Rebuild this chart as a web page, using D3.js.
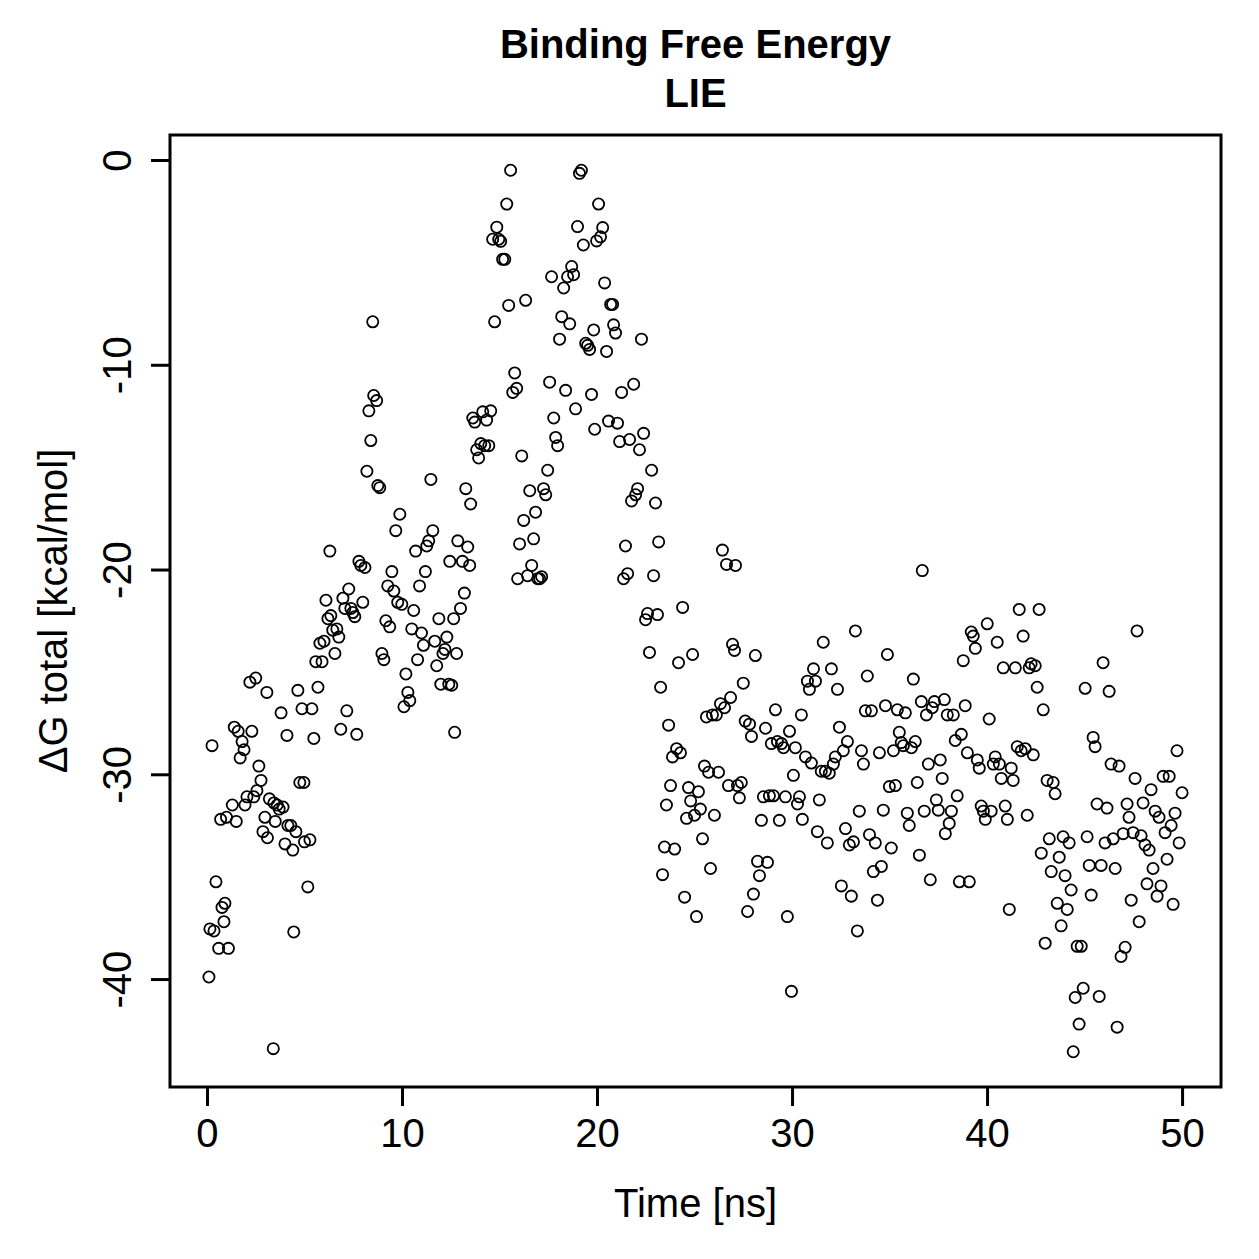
<!DOCTYPE html>
<html lang="en">
<head>
<meta charset="UTF-8">
<title>Binding Free Energy LIE</title>
<style>
  body { margin: 0; background: #fff; }
  svg { display: block; font-family: "Liberation Sans", Arial, sans-serif; }
</style>
</head>
<body>
<div id="chart"></div>
<script src="https://cdn.jsdelivr.net/npm/d3@7"></script>
<script>
// simulation time [ns]
const time = [
  0.1, 0.26, 0.15, 0.36, 0.46, 0.6, 0.7, 0.77, 0.92, 0.87, 1.1, 1.0, 1.3, 1.4, 1.5, 1.6, 1.7, 1.8, 1.9, 1.95,
  2.05, 2.2, 2.3, 2.4, 2.5, 2.56, 2.66, 2.77, 2.87, 2.97, 3.07, 3.1, 3.2, 3.4, 3.43, 3.5, 3.6, 3.7, 3.8, 3.9,
  4.0, 4.1, 4.15, 4.3, 4.4, 4.45, 4.56, 4.66, 4.76, 4.87, 4.97, 5.0, 5.17, 5.28, 5.38, 5.48, 5.58, 5.69, 5.79, 5.9,
  6.0, 6.1, 6.2, 6.3, 6.35, 6.45, 6.56, 6.66, 6.76, 6.86, 6.97, 7.07, 7.17, 7.27, 7.38, 7.48, 7.58, 7.68, 7.79, 7.89,
  7.99, 8.1, 8.2, 8.3, 8.4, 8.5, 8.55, 8.7, 8.76, 8.86, 8.97, 9.07, 9.17, 9.27, 9.37, 9.48, 9.58, 9.68, 9.78, 9.89,
  9.99, 10.1, 10.2, 10.3, 10.4, 10.5, 10.6, 10.7, 10.8, 10.9, 11.0, 11.1, 11.2, 11.27, 11.37, 11.48, 11.58, 11.68, 11.78, 11.89,
  11.99, 12.1, 12.2, 12.3, 12.4, 12.45, 12.55, 12.65, 12.7, 12.8, 12.86, 13.0, 13.1, 13.2, 13.27, 13.37, 13.47, 13.52, 13.63, 13.73,
  13.83, 13.93, 14.04, 14.14, 14.24, 14.34, 14.45, 14.55, 14.65, 14.75, 14.86, 14.96, 15.06, 15.16, 15.27, 15.37, 15.47, 15.57, 15.68, 15.78,
  15.88, 15.93, 16.03, 16.14, 16.24, 16.34, 16.44, 16.55, 16.65, 16.75, 16.85, 16.96, 17.06, 17.16, 17.26, 17.37, 17.47, 17.57, 17.67, 17.78,
  17.88, 17.98, 18.08, 18.19, 18.29, 18.39, 18.49, 18.6, 18.7, 18.8, 18.9, 19.0, 19.1, 19.2, 19.3, 19.42, 19.52, 19.62, 19.72, 19.83,
  19.88, 19.98, 20.08, 20.18, 20.29, 20.39, 20.49, 20.59, 20.7, 20.8, 20.85, 20.95, 21.05, 21.16, 21.26, 21.36, 21.46, 21.57, 21.67, 21.77,
  21.88, 21.98, 22.08, 22.18, 22.28, 22.39, 22.49, 22.59, 22.69, 22.8, 22.9, 23.0, 23.1, 23.16, 23.26, 23.36, 23.46, 23.56, 23.67, 23.77,
  23.87, 23.98, 24.08, 24.18, 24.28, 24.39, 24.49, 24.59, 24.69, 24.8, 24.9, 25.0, 25.1, 25.2, 25.3, 25.41, 25.51, 25.61, 25.72, 25.82,
  25.92, 26.02, 26.12, 26.23, 26.33, 26.43, 26.54, 26.64, 26.74, 26.85, 26.95, 27.05, 27.1, 27.2, 27.3, 27.4, 27.5, 27.6, 27.72, 27.82,
  27.92, 28.02, 28.12, 28.23, 28.33, 28.43, 28.53, 28.64, 28.74, 28.84, 28.94, 29.05, 29.15, 29.25, 29.35, 29.46, 29.56, 29.66, 29.76, 29.87,
  29.97, 30.07, 30.17, 30.28, 30.38, 30.48, 30.53, 30.69, 30.79, 30.89, 30.99, 31.1, 31.2, 31.3, 31.4, 31.5, 31.6, 31.71, 31.81, 31.91,
  32.02, 32.12, 32.22, 32.33, 32.43, 32.53, 32.63, 32.74, 32.84, 32.94, 33.04, 33.15, 33.25, 33.35, 33.45, 33.56, 33.66, 33.76, 33.86, 33.97,
  34.07, 34.17, 34.27, 34.38, 34.48, 34.58, 34.68, 34.79, 34.89, 34.99, 35.09, 35.2, 35.3, 35.4, 35.5, 35.6, 35.71, 35.81, 35.91, 36.01,
  36.12, 36.22, 36.32, 36.42, 36.53, 36.63, 36.68, 36.78, 36.89, 36.99, 37.09, 37.19, 37.3, 37.4, 37.5, 37.6, 37.7, 37.81, 37.86, 37.96,
  38.06, 38.17, 38.27, 38.37, 38.47, 38.58, 38.68, 38.78, 38.88, 38.99, 39.09, 39.19, 39.29, 39.4, 39.5, 39.6, 39.7, 39.81, 39.91, 40.01,
  40.11, 40.21, 40.32, 40.42, 40.52, 40.63, 40.73, 40.83, 40.93, 41.04, 41.14, 41.24, 41.34, 41.45, 41.55, 41.65, 41.75, 41.85, 41.96, 42.06,
  42.16, 42.26, 42.37, 42.47, 42.57, 42.67, 42.78, 42.88, 42.98, 43.08, 43.19, 43.29, 43.39, 43.49, 43.6, 43.7, 43.8, 43.9, 44.0, 44.11,
  44.21, 44.31, 44.42, 44.52, 44.62, 44.72, 44.83, 44.93, 45.03, 45.13, 45.24, 45.34, 45.44, 45.54, 45.64, 45.75, 45.85, 45.95, 46.05, 46.15,
  46.26, 46.36, 46.47, 46.57, 46.67, 46.77, 46.87, 46.98, 47.08, 47.18, 47.28, 47.39, 47.49, 47.59, 47.69, 47.8, 47.9, 48.0, 48.1, 48.2,
  48.31, 48.41, 48.51, 48.62, 48.72, 48.82, 48.92, 49.03, 49.13, 49.23, 49.34, 49.44, 49.54, 49.64, 49.74, 49.85, 50.0
]

// ΔG total [kcal/mol], same order as time
const dG = [
  -39.9, -28.6, -37.55, -37.65, -35.25, -38.5, -32.2, -36.5, -36.3, -37.2, -38.5, -32.1, -31.5, -27.7, -32.3, -27.9, -29.2, -28.4, -28.8, -31.5,
  -31.1, -25.5, -27.9, -31.1, -25.3, -30.8, -29.6, -30.3, -32.8, -32.1, -26.0, -33.1, -31.2, -43.4, -31.4, -32.3, -31.5, -31.7, -27.0, -31.6,
  -33.4, -28.1, -32.5, -32.5, -33.7, -37.7, -32.8, -25.9, -30.4, -26.8, -30.4, -33.3, -35.5, -33.2, -26.8, -28.25, -24.5, -25.75, -23.6, -24.5,
  -23.5, -21.5, -22.4, -19.1, -22.25, -22.96, -24.1, -22.9, -23.3, -27.8, -21.4, -21.9, -26.9, -20.95, -21.9, -22.1, -22.3, -28.05, -19.6, -19.8,
  -21.6, -19.9, -15.2, -12.25, -13.7, -7.9, -11.5, -11.75, -15.9, -16.0, -24.1, -24.4, -22.5, -20.8, -22.8, -20.1, -21.05, -18.1, -21.6, -17.3,
  -21.7, -26.7, -25.1, -26.0, -26.4, -22.9, -22.0, -19.1, -24.4, -20.8, -23.1, -23.7, -20.1, -18.85, -18.6, -15.6, -18.1, -23.5, -24.7, -22.4,
  -25.6, -24.1, -23.9, -23.3, -25.6, -19.6, -25.65, -22.4, -27.95, -24.1, -18.6, -21.9, -19.6, -21.15, -16.05, -18.9, -19.8, -16.8, -12.6, -12.8,
  -14.15, -14.55, -13.85, -12.3, -13.95, -12.7, -13.95, -12.25, -3.87, -7.9, -3.28, -3.87, -3.97, -4.85, -4.85, -2.15, -7.1, -0.5, -11.35, -10.4,
  -11.15, -20.45, -18.75, -14.45, -17.6, -6.85, -20.3, -16.15, -19.8, -18.5, -17.2, -20.45, -20.45, -20.35, -16.05, -16.35, -15.15, -10.85, -5.7, -12.6,
  -13.55, -13.95, -8.75, -7.65, -6.25, -11.25, -5.7, -8.0, -5.2, -5.6, -12.15, -3.25, -0.65, -0.5, -4.15, -8.95, -9.05, -9.25, -11.45, -8.3,
  -13.15, -3.95, -2.15, -3.75, -3.3, -6.0, -9.35, -12.75, -7.05, -7.05, -8.05, -8.45, -12.85, -13.75, -11.35, -20.45, -18.85, -20.2, -13.65, -16.65,
  -10.95, -16.35, -16.05, -14.15, -8.75, -13.35, -22.45, -22.15, -24.05, -15.15, -20.3, -16.75, -22.2, -18.65, -25.75, -34.9, -33.55, -31.5, -27.6, -30.55,
  -29.15, -33.65, -28.75, -24.55, -28.95, -21.85, -36.0, -32.15, -30.65, -31.3, -24.15, -32.0, -36.95, -30.85, -31.7, -33.15, -29.6, -27.2, -29.9, -34.6,
  -27.1, -32.0, -27.1, -29.9, -26.55, -19.05, -26.75, -19.75, -30.55, -26.25, -23.65, -23.95, -19.8, -30.55, -31.15, -30.4, -25.55, -27.4, -36.7, -27.55,
  -28.15, -35.85, -24.2, -34.25, -34.95, -32.25, -31.1, -27.75, -34.3, -31.05, -28.5, -31.05, -26.85, -28.4, -32.25, -28.5, -28.7, -31.1, -36.95, -27.9,
  -40.6, -30.05, -28.7, -31.45, -31.1, -27.1, -32.2, -29.15, -25.45, -25.85, -29.45, -24.85, -25.45, -32.8, -31.25, -29.85, -23.55, -29.85, -33.35, -29.95,
  -24.85, -29.5, -29.15, -25.85, -27.7, -35.45, -28.85, -32.65, -28.4, -33.45, -35.95, -33.3, -23.0, -37.65, -31.8, -28.85, -29.5, -26.9, -25.2, -32.95,
  -26.9, -34.75, -33.35, -36.15, -28.95, -34.5, -31.75, -26.65, -24.15, -30.6, -33.6, -28.85, -30.55, -26.85, -27.95, -28.45, -28.6, -27.0, -31.9, -32.5,
  -28.7, -25.35, -28.4, -30.4, -33.95, -26.45, -20.05, -31.8, -27.1, -29.5, -35.15, -26.75, -26.45, -31.25, -31.75, -29.3, -30.2, -26.35, -32.9, -27.1,
  -32.4, -31.8, -27.1, -28.35, -31.05, -35.25, -28.05, -24.45, -26.65, -28.95, -35.25, -23.05, -23.25, -23.85, -29.3, -29.7, -31.55, -31.8, -32.2, -22.65,
  -27.3, -31.8, -29.5, -29.15, -23.55, -29.5, -30.2, -24.8, -31.55, -32.2, -36.6, -29.7, -30.3, -24.8, -28.65, -21.95, -28.85, -23.25, -28.75, -32.0,
  -24.8, -24.6, -29.05, -24.7, -25.75, -21.95, -33.85, -26.85, -38.25, -30.3, -33.15, -34.75, -30.4, -30.95, -36.3, -34.05, -37.4, -33.05, -34.95, -36.6,
  -33.35, -35.65, -43.55, -40.9, -38.4, -42.2, -38.4, -40.45, -25.8, -33.05, -34.45, -35.9, -28.2, -28.65, -31.45, -40.85, -34.45, -24.55, -33.35, -31.65,
  -25.95, -29.5, -33.15, -34.6, -42.35, -29.6, -38.9, -32.9, -38.45, -31.45, -32.1, -36.15, -32.85, -30.2, -23.0, -37.2, -33.0, -31.4, -33.45, -35.35,
  -33.7, -30.75, -34.6, -31.8, -35.95, -32.1, -35.45, -30.1, -32.85, -34.15, -30.1, -32.5, -36.35, -31.9, -28.85, -33.35, -30.9
]

const xTicks = [0, 10, 20, 30, 40, 50]
const yTicks = [0, -10, -20, -30, -40]

const width = 1259
const height = 1259
const box = { left: 170, right: 1221, top: 135, bottom: 1087 }

const svg = d3.select('#chart')
  .append('svg')
  .attr('width', width)
  .attr('height', height)

// R style: 4% padding around the data range
function pad(ext) {
  const d = (ext[1] - ext[0]) * 0.04
  return [ext[0] - d, ext[1] + d]
}

const x = d3.scaleLinear()
  .domain(pad(d3.extent(time)))
  .range([box.left, box.right])

const y = d3.scaleLinear()
  .domain(pad(d3.extent(dG)))
  .range([box.bottom, box.top])

const points = time.map((t, i) => ({ t, v: dG[i] }))

svg.append('g')
  .selectAll('circle')
  .data(points)
  .enter()
  .append('circle')
  .attr('cx', d => x(d.t))
  .attr('cy', d => y(d.v))
  .attr('r', 5.6)
  .attr('fill', 'none')
  .attr('stroke', '#000')
  .attr('stroke-width', 1.8)

// plain hyphen for negatives, like R
const fmt = d => String(d)

// axes
const xAxis = svg.append('g')
  .attr('transform', `translate(0, ${box.bottom})`)
  .call(d3.axisBottom(x).tickValues(xTicks).tickSize(19).tickPadding(13).tickFormat(fmt))
xAxis.select('.domain').remove()
xAxis.selectAll('line').attr('stroke-width', 3)
xAxis.selectAll('text')
  .attr('font-size', 40)
  .attr('font-family', '"Liberation Sans", Arial, sans-serif')
  .attr('fill', '#000')

const yAxis = svg.append('g')
  .attr('transform', `translate(${box.left}, 0)`)
  .call(d3.axisLeft(y).tickValues(yTicks).tickSize(19).tickFormat(fmt))
yAxis.select('.domain').remove()
yAxis.selectAll('line').attr('stroke-width', 3)
yAxis.selectAll('text')
  .attr('font-size', 40)
  .attr('font-family', '"Liberation Sans", Arial, sans-serif')
  .attr('fill', '#000')
  .attr('x', null)
  .attr('dy', null)
  .attr('text-anchor', 'middle')
  .attr('transform', 'translate(-39, 0) rotate(-90)')

// plot box
svg.append('rect')
  .attr('x', box.left)
  .attr('y', box.top)
  .attr('width', box.right - box.left)
  .attr('height', box.bottom - box.top)
  .attr('fill', 'none')
  .attr('stroke', '#000')
  .attr('stroke-width', 3)

// titles
const midX = (box.left + box.right) / 2
svg.append('text')
  .attr('x', midX).attr('y', 58)
  .attr('text-anchor', 'middle')
  .attr('font-size', 40).attr('font-weight', 'bold')
  .text('Binding Free Energy')
svg.append('text')
  .attr('x', midX).attr('y', 107)
  .attr('text-anchor', 'middle')
  .attr('font-size', 40).attr('font-weight', 'bold')
  .text('LIE')

svg.append('text')
  .attr('x', midX).attr('y', 1217)
  .attr('text-anchor', 'middle')
  .attr('font-size', 40)
  .text('Time [ns]')

svg.append('text')
  .attr('transform', `translate(67, ${(box.top + box.bottom) / 2}) rotate(-90)`)
  .attr('text-anchor', 'middle')
  .attr('font-size', 40)
  .text('ΔG total [kcal/mol]')
</script>
</body>
</html>
